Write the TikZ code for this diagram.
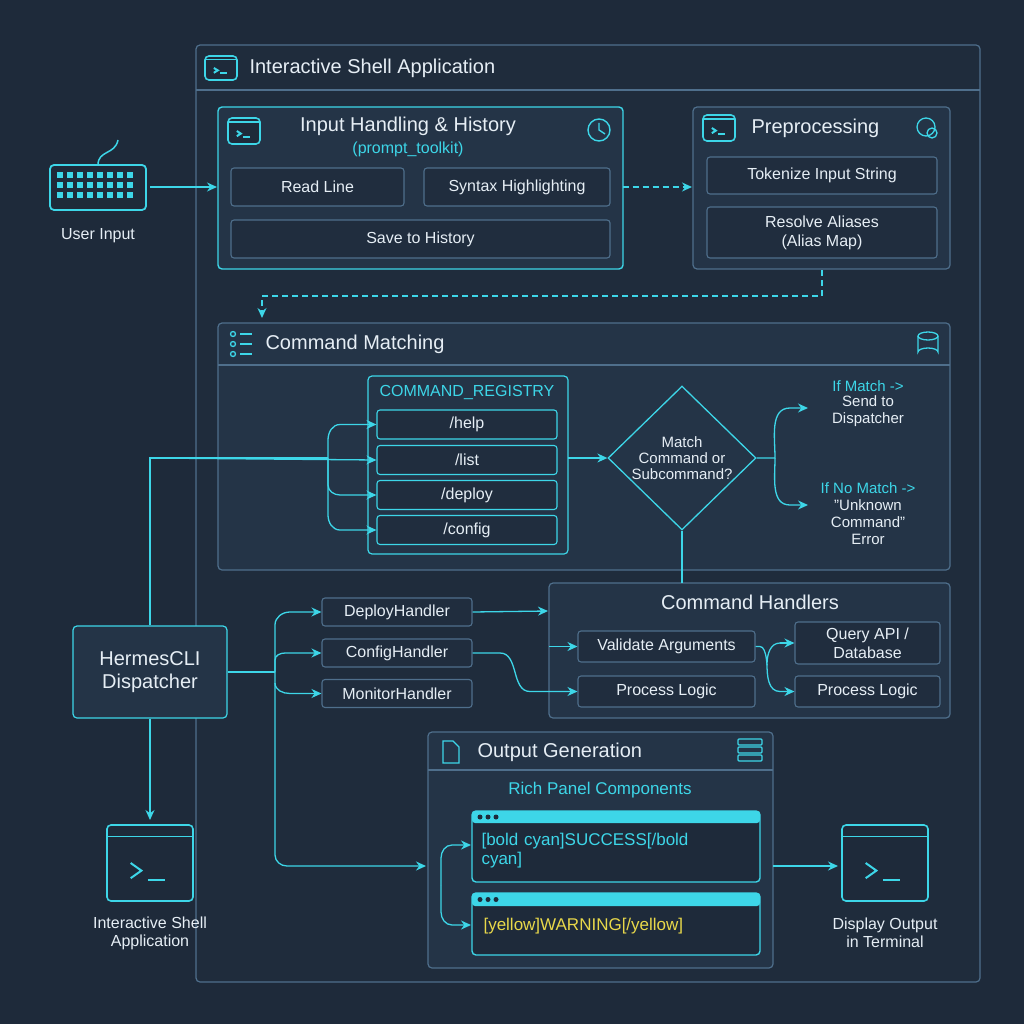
\documentclass[tikz,border=0pt]{standalone}
\usepackage{fontspec}
\setmainfont{Liberation Sans}
\usetikzlibrary{arrows.meta,positioning,shapes.geometric,calc}
\definecolor{bg}{HTML}{1E2A3A}
\definecolor{panel}{HTML}{243447}
\definecolor{edge}{HTML}{4F6F8C}
\definecolor{cy}{HTML}{3DD6E8}
\definecolor{txt}{HTML}{E6EEF5}
\definecolor{yel}{HTML}{E8D84A}
\tikzset{
  box/.style={draw=edge, fill=panel, rounded corners=4pt, line width=1.2pt},
  hbox/.style={draw=cy, fill=panel, rounded corners=4pt, line width=1.4pt},
  btn/.style={draw=edge, fill=bg!70!panel, rounded corners=3pt, line width=1.1pt,
    text=txt, font=\fontsize{16}{19}\selectfont, align=center, inner sep=1pt},
  cbtn/.style={btn, draw=cy},
  ttl/.style={text=txt, font=\fontsize{20}{23}\selectfont, anchor=west},
  lbl/.style={text=txt, font=\fontsize{16}{18}\selectfont, align=center},
  arr/.style={draw=cy, line width=1.3pt, -{Stealth[length=10pt,width=9pt]}},
  ln/.style={draw=cy, line width=1.3pt},
  dsh/.style={dash pattern=on 6pt off 4pt},
  icon/.style={draw=cy, line width=1.6pt, rounded corners=4pt, fill=bg},
}
\newcommand{\term}[3]{% center, half size
  \draw[icon] ($(#1)+(-#2,-#3)$) rectangle ($(#1)+(#2,#3)$);
  \draw[cy, line width=1.6pt] ($(#1)+(-#2,-#3+0.3*#3)$) -- ($(#1)+(#2,-#3+0.3*#3)$);
  \draw[cy, line width=2pt] ($(#1)+(-0.45*#2,0)$) -- ($(#1)+(-0.2*#2,0.2*#3)$) -- ($(#1)+(-0.45*#2,0.4*#3)$);
  \draw[cy, line width=2pt] ($(#1)+(-0.05*#2,0.45*#3)$) -- ($(#1)+(0.35*#2,0.45*#3)$);}
\begin{document}
\begin{tikzpicture}[x=1pt,y=-1pt]
\fill[bg] (0,0) rectangle (1024,1024);
% outer application frame
\draw[box, fill=bg!85!panel] (196,45) rectangle (980,982);
\draw[edge, line width=1.2pt] (196,90) -- (980,90);
\term{221,68}{16}{12}
\node[ttl] at (246,68) {Interactive Shell Application};

% input handling
\draw[hbox] (218,107) rectangle (623,269);
\term{244,131}{16}{13}
\node[text=txt, font=\fontsize{20}{23}\selectfont] at (408,126) {Input Handling \& History};
\node[text=cy, font=\fontsize{16}{18}\selectfont] at (408,149) {(prompt\_toolkit)};
\draw[cy, line width=1.4pt] (599,130) circle (11);
\draw[cy, line width=1.4pt] (599,123) -- (599,130) -- (605,134);
\node[btn, minimum width=173, minimum height=38] (read) at (317.5,187) {Read Line};
\node[btn, minimum width=186, minimum height=38] (syntax) at (517,187) {Syntax Highlighting};
\node[btn, minimum width=379, minimum height=38] (save) at (420.5,239) {Save to History};

% preprocessing
\draw[box] (693,107) rectangle (950,269);
\term{719,128}{16}{13}
\node[ttl] at (748,128) {Preprocessing};
\draw[cy, line width=1.3pt] (926,127) circle (9);
\draw[cy, line width=1.3pt] (932,133) circle (5);
\node[btn, minimum width=230, minimum height=37] (token) at (822,175.5) {Tokenize Input String};
\node[btn, minimum width=230, minimum height=51] (alias) at (822,232.5) {Resolve Aliases\\(Alias Map)};
\coordinate (preS) at (822,270);

% user input
\draw[icon, line width=1.8pt] (50,165) rectangle (146,210);
\foreach \r in {175,185,195} \foreach \c in {60,70,...,136} \fill[cy] (\c-3,\r-3) rectangle (\c+3,\r+3);
\draw[cy, line width=1.5pt] (98,165) .. controls (98,150) and (115,155) .. (118,140);
\node[lbl] (user) at (98,236) {User Input};
\coordinate (kb) at (150,187);
\coordinate (ihW) at (217,187);
\draw[arr] (kb) -- (ihW);
\draw[arr, dsh] (syntax.east) ++(12,0) -- (692,187);

% command matching
\draw[box] (218,323) rectangle (950,570);
\draw[edge, line width=1.2pt] (218,365) -- (950,365);
\foreach \y in {334,344,354} {\draw[cy, line width=1.3pt] (233,\y) circle (2.5); \draw[cy, line width=1.3pt] (240,\y) -- (252,\y);}
\node[ttl] at (262,344) {Command Matching};
\draw[cy, line width=1.3pt] (928,336) ellipse (10 and 4);
\draw[cy, line width=1.3pt] (918,336) -- (918,352) arc (180:0:10 and -4) -- (938,336);
\coordinate (cmN) at (262,318);
\draw[arr, dsh] (preS) -- (822,296) -- (262,296) -- (cmN);

\draw[hbox, line width=1.2pt] (368,376) rectangle (568,554);
\node[text=cy, font=\fontsize{16}{18}\selectfont] at (467,393) {COMMAND\_REGISTRY};
\node[cbtn, minimum width=180, minimum height=29] (help) at (467,424.5) {/help};
\node[cbtn, minimum width=180, minimum height=29] (list) at (467,460) {/list};
\node[cbtn, minimum width=180, minimum height=29] (deploy) at (467,495) {/deploy};
\node[cbtn, minimum width=180, minimum height=29] (config) at (467,530) {/config};
\coordinate (regE) at (568,458);
\node[diamond, draw=cy, line width=1.3pt, fill=panel, minimum width=148, minimum height=108, inner sep=0,
  text=txt, font=\fontsize{15}{16}\selectfont, align=center] (match) at (682,458) {Match\\Command or\\Subcommand?};
\draw[arr] (regE) -- (match.west);
\coordinate (yes) at (808,408);
\coordinate (no) at (808,505);
\draw[arr] (match.east) -- (775,458) to[out=90,in=180] (790,408) -- (yes);
\draw[arr] (775,458) to[out=-90,in=180] (790,505) -- (no);
\node[text=cy, font=\fontsize{15}{17}\selectfont, align=center] at (868,386) {If Match ->};
\node[lbl, font=\fontsize{15}{17}\selectfont] at (868,411) {Send to\\Dispatcher};
\node[text=cy, font=\fontsize{15}{17}\selectfont] at (868,488) {If No Match ->};
\node[lbl, font=\fontsize{15}{17}\selectfont] at (868,522) {"Unknown\\Command"\\Error};

% dispatcher
\node[box, draw=cy, text=txt, minimum width=154, minimum height=92, align=center,
  font=\fontsize{20}{23}\selectfont] (disp) at (150,672) {HermesCLI\\Dispatcher};
\draw[ln] (disp.north) -- (150,458) -- (328,458);
\draw[arr] (150,458) -- (list.west);
\draw[arr] (328,458) -- (328,440) to[out=90,in=180] (340,424.5) -- (help.west);
\draw[arr] (328,458) -- (328,515) to[out=-90,in=180] (340,530) -- (config.west);
\draw[arr] (328,458) -- (328,485) to[out=-90,in=180] (340,495) -- (deploy.west);

\node[btn, minimum width=150, minimum height=28] (dh) at (397,612) {DeployHandler};
\node[btn, minimum width=150, minimum height=28] (ch) at (397,653) {ConfigHandler};
\node[btn, minimum width=150, minimum height=28] (mh) at (397,693.5) {MonitorHandler};
\draw[ln] (disp.east) -- (275,672);
\draw[arr] (275,672) -- (275,625) to[out=90,in=180] (290,612) -- (dh.west);
\draw[arr] (275,672) -- (275,660) to[out=90,in=180] (285,653) -- (ch.west);
\draw[arr] (275,672) -- (275,683) to[out=-90,in=180] (290,693.5) -- (mh.west);

% command handlers
\draw[box] (549,583) rectangle (950,718);
\node[text=txt, font=\fontsize{20}{23}\selectfont] at (750,602) {Command Handlers};
\draw[ln] (match.south) -- (682,583);
\node[btn, minimum width=177, minimum height=31] (val) at (666.5,646.5) {Validate Arguments};
\node[btn, minimum width=177, minimum height=31] (proc) at (666.5,691.5) {Process Logic};
\node[btn, minimum width=145, minimum height=42] (query) at (867.5,643) {Query API /\\Database};
\node[btn, minimum width=145, minimum height=31] (proc2) at (867.5,691.5) {Process Logic};
\coordinate (chW) at (548,611);
\draw[arr] (dh.east) -- (chW);
\draw[arr] (ch.east) -- (500,653) to[out=0,in=180] (530,691.5) -- (proc.west);
\draw[arr] (549,646.5) -- (val.west);
\draw[ln] (val.east) -- (760,646.5) to[out=0,in=-90] (767,664) to[out=90,in=180] (780,643);
\draw[arr] (780,643) -- (query.west);
\draw[arr] (767,664) to[out=-90,in=180] (780,691.5) -- (proc2.west);

% output generation
\draw[box] (428,732) rectangle (773,968);
\draw[edge, line width=1.2pt] (428,770) -- (773,770);
\draw[cy, line width=1.3pt] (443,741) -- (453,741) -- (459,747) -- (459,763) -- (443,763) -- cycle;
\node[ttl] at (474,752) {Output Generation};
\foreach \y in {742,750,758} \draw[cy, line width=1.2pt, rounded corners=1pt] (738,\y-3) rectangle (762,\y+3);
\node[text=cy, font=\fontsize{17}{19}\selectfont] at (600,790) {Rich Panel Components};
\draw[hbox, fill=bg] (472,811) rectangle (760,882);
\fill[cy, rounded corners=3pt] (472,811) rectangle (760,823);
\foreach \x in {480,488,496} \fill[bg] (\x,817) circle (2.5);
\node[text=cy, font=\fontsize{17}{19}\selectfont, anchor=north west, align=left, text width=270] (succ) at (478,830) {[bold cyan]SUCCESS[/bold\\cyan]};
\draw[hbox, fill=bg] (472,893) rectangle (760,955);
\fill[cy, rounded corners=3pt] (472,893) rectangle (760,906);
\foreach \x in {480,488,496} \fill[bg] (\x,899.5) circle (2.5);
\node[text=yel, font=\fontsize{17}{19}\selectfont, anchor=west] (warn) at (480,926) {[yellow]WARNING[/yellow]};
\coordinate (p1W) at (471,845);
\coordinate (p2W) at (471,925);
\draw[arr] (441,885) -- (441,858) to[out=90,in=180] (452,845) -- (p1W);
\draw[arr] (441,885) -- (441,912) to[out=-90,in=180] (452,925) -- (p2W);
\coordinate (ogW) at (426,866);
\draw[arr] (275,683) -- (275,855) to[out=-90,in=180] (287,866) -- (ogW);

% terminals
\draw[arr] (disp.south) -- (150,820);
\term{150,863}{43}{38}
\node[lbl] at (150,933) {Interactive Shell\\Application};
\coordinate (termW) at (838,866);
\draw[arr] (773,866) -- (termW);
\term{885,863}{43}{38}
\node[lbl] at (885,933) {Display Output\\in Terminal};
\end{tikzpicture}
\end{document}
